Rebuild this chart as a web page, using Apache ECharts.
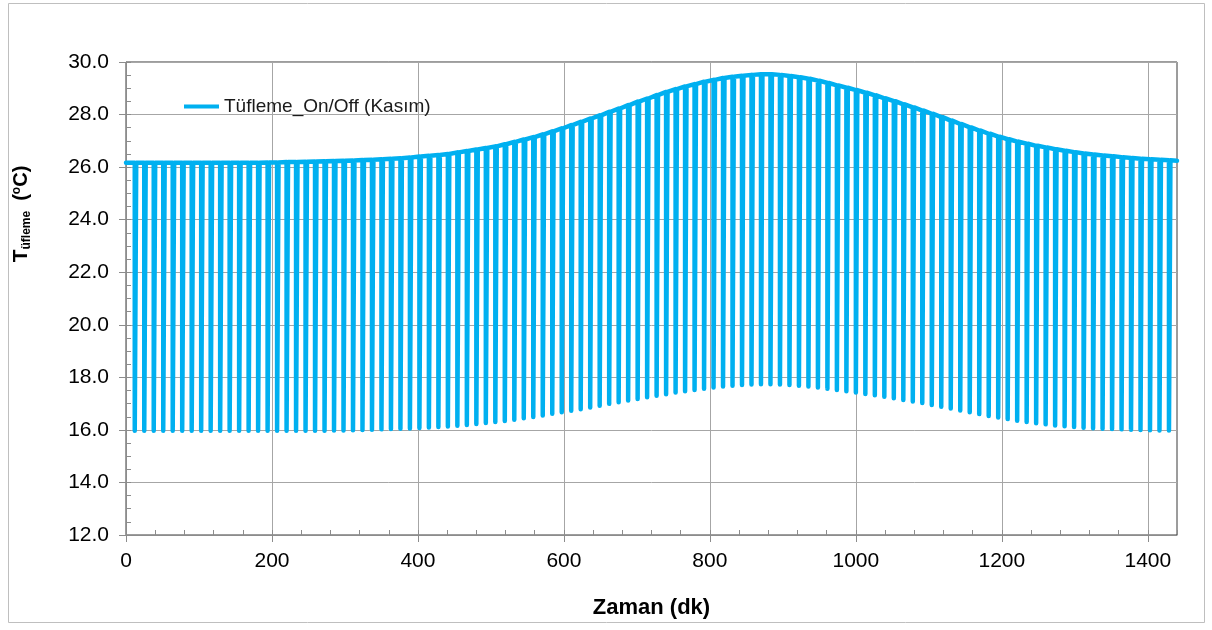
<!DOCTYPE html>
<html>
<head>
<meta charset="utf-8">
<script src="https://cdn.jsdelivr.net/npm/echarts@6.0.0/dist/echarts.min.js"></script>
<style>
html,body{margin:0;padding:0;background:#fff;}
#chart{width:1212px;height:630px;}
</style>
</head>
<body>
<div id="chart"></div>
<script>
// ---- data ----
var seriesName = 'Tüfleme_On/Off (Kasım)';
var xTicks = [0, 200, 400, 600, 800, 1000, 1200, 1400];
var yTicks = [12, 14, 16, 18, 20, 22, 24, 26, 28, 30];
var startPoint = [0, 26.17];
var endPoint = [1440, 26.24];
// times (dk) of each off-dip
var cycleTimes = [
  12,25,38,51,64,77,90,103,116,129,
  142,155,168,181,194,207,220,233,246,259,
  272,285,298,311,324,337,350,363,376,389,
  402,415,428,441,454,467,480,493,506,519,
  532,545,558,571,584,597,610,623,636,649,
  662,675,688,701,714,727,740,753,766,779,
  792,805,818,831,844,857,870,883,896,909,
  922,935,948,961,974,987,1000,1013,1026,1039,
  1052,1065,1078,1091,1104,1117,1130,1143,1156,1169,
  1182,1195,1208,1221,1234,1247,1260,1273,1286,1299,
  1312,1325,1338,1351,1364,1377,1390,1403,1416,1429
];
// upper (on) temperature at each cycle
var upperTemps = [
  26.17,26.17,26.17,26.17,26.17,26.17,26.17,26.17,26.17,26.17,
  26.17,26.17,26.17,26.17,26.18,26.18,26.19,26.19,26.20,26.21,
  26.22,26.23,26.24,26.25,26.27,26.28,26.30,26.32,26.34,26.37,
  26.40,26.43,26.46,26.50,26.56,26.61,26.67,26.73,26.79,26.87,
  26.96,27.05,27.14,27.25,27.36,27.48,27.60,27.72,27.85,27.97,
  28.10,28.23,28.36,28.49,28.61,28.74,28.86,28.97,29.07,29.16,
  29.25,29.32,29.39,29.44,29.48,29.51,29.53,29.53,29.51,29.47,
  29.42,29.36,29.29,29.20,29.11,29.02,28.93,28.83,28.73,28.62,
  28.51,28.39,28.27,28.15,28.03,27.90,27.77,27.64,27.51,27.39,
  27.27,27.16,27.06,26.97,26.89,26.81,26.75,26.68,26.62,26.57,
  26.52,26.48,26.44,26.41,26.38,26.35,26.32,26.30,26.28,26.26
];
// lower (off) temperature at each cycle
var lowerTemps = [
  15.97,15.97,15.97,15.97,15.97,15.97,15.97,15.97,15.97,15.97,
  15.97,15.97,15.97,15.97,15.97,15.97,15.97,15.97,15.97,15.97,
  15.97,15.98,15.98,15.99,16.00,16.01,16.02,16.03,16.04,16.05,
  16.07,16.09,16.11,16.13,16.16,16.19,16.22,16.26,16.30,16.34,
  16.39,16.44,16.49,16.55,16.61,16.67,16.73,16.79,16.85,16.92,
  16.99,17.05,17.12,17.18,17.24,17.30,17.36,17.42,17.47,17.52,
  17.57,17.61,17.65,17.68,17.71,17.73,17.74,17.74,17.73,17.71,
  17.68,17.65,17.61,17.57,17.52,17.47,17.42,17.37,17.32,17.26,
  17.20,17.14,17.08,17.02,16.95,16.88,16.81,16.74,16.67,16.60,
  16.53,16.47,16.41,16.35,16.30,16.25,16.21,16.17,16.14,16.11,
  16.08,16.06,16.04,16.03,16.02,16.01,16.00,15.99,15.98,15.98
];
var offDuration = 2; // dk spent at the lower value in each dip

// build the line's point table from the arrays
var lineData = [startPoint.slice()];
for (var i = 0; i < cycleTimes.length; i++) {
  var t = cycleTimes[i];
  lineData.push([t, upperTemps[i]]);
  lineData.push([t, lowerTemps[i]]);
  lineData.push([t + offDuration, lowerTemps[i]]);
  lineData.push([t + offDuration, upperTemps[i]]);
}
lineData.push(endPoint.slice());

var FONT = '"Liberation Sans", Arial, sans-serif';
var chart = echarts.init(document.getElementById('chart'), null, {renderer: 'canvas'});
var option = {
  animation: false,
  backgroundColor: '#ffffff',
  textStyle: {fontFamily: FONT},
  grid: {left: 126, right: 35, top: 62, bottom: 95, show: true, borderColor: '#3a3a3a', borderWidth: 1, backgroundColor: 'transparent'},
  legend: {
    left: 184, top: 97, padding: 0,
    icon: 'rect', itemWidth: 35, itemHeight: 4, itemGap: 4,
    textStyle: {fontFamily: FONT, fontSize: 19, color: '#1a1a1a', padding: [0,0,0,0]},
    data: [seriesName]
  },
  xAxis: [{
    type: 'value', min: 0, max: 1440, interval: 200,
    axisLine: {show: true, lineStyle: {color: '#8c8c8c', width: 1}},
    axisTick: {show: true, inside: false, length: 7, lineStyle: {color: '#8c8c8c'}, customValues: xTicks},
    axisLabel: {show: true, margin: 16, fontSize: 21, color: '#000', fontFamily: FONT, customValues: xTicks,
      formatter: function (v) { return String(v); }},
    splitLine: {show: true, lineStyle: {color: '#a6a6a6', width: 1}},
    name: 'Zaman (dk)', nameLocation: 'middle', nameGap: 62,
    nameTextStyle: {fontSize: 22, fontWeight: 'bold', color: '#000', fontFamily: FONT}
  }, {
    type: 'value', min: 0, max: 1440, interval: 40, position: 'bottom',
    axisLine: {show: false}, axisLabel: {show: false}, splitLine: {show: false},
    axisTick: {show: true, inside: true, length: 5, lineStyle: {color: '#8c8c8c'}}
  }],
  yAxis: [{
    type: 'value', min: 12, max: 30, interval: 2,
    axisLine: {show: true, lineStyle: {color: '#8c8c8c', width: 1}},
    axisTick: {show: true, inside: false, length: 7, lineStyle: {color: '#8c8c8c'}},
    axisLabel: {show: true, margin: 17, fontSize: 21, color: '#000', fontFamily: FONT,
      formatter: function (v) { return v.toFixed(1); }},
    splitLine: {show: true, lineStyle: {color: '#a6a6a6', width: 1}}
  }, {
    type: 'value', min: 12, max: 30, interval: 0.5, position: 'left',
    axisLine: {show: false}, axisLabel: {show: false}, splitLine: {show: false},
    axisTick: {show: true, inside: true, length: 5, lineStyle: {color: '#8c8c8c'}}
  }],
  graphic: [{
    type: 'rect', silent: true, z: -10,
    shape: {x: 8.5, y: 3.5, width: 1196, height: 619},
    style: {fill: 'none', stroke: '#bfbfbf', lineWidth: 1}
  }, {
    type: 'text', silent: true,
    x: 21, y: 214, rotation: Math.PI / 2,
    style: {
      text: '{t|T}{s|üfleme}{g|   }{p|(}{o|o}{p|C)}',
      align: 'center', verticalAlign: 'middle', fill: '#000',
      rich: {
        t: {fontSize: 21, fontWeight: 'bold', fontFamily: FONT, fill: '#000', lineHeight: 26, verticalAlign: 'middle'},
        s: {fontSize: 12, fontWeight: 'bold', fontFamily: FONT, fill: '#000', lineHeight: 26, verticalAlign: 'bottom', padding: [0,0,1,0]},
        g: {fontSize: 12, fontFamily: FONT, lineHeight: 26},
        p: {fontSize: 20, fontWeight: 'bold', fontFamily: FONT, fill: '#000', lineHeight: 26, verticalAlign: 'middle'},
        o: {fontSize: 12, fontWeight: 'bold', fontFamily: FONT, fill: '#000', lineHeight: 26, verticalAlign: 'top', padding: [3,0,0,0]}
      }
    }
  }],
  series: [{
    name: seriesName,
    type: 'line',
    xAxisIndex: 0, yAxisIndex: 0,
    data: lineData,
    showSymbol: false, symbol: 'none',
    clip: true,
    lineStyle: {color: '#00B0F0', width: 4.5, join: 'round', cap: 'round'},
    itemStyle: {color: '#00B0F0'}
  }]
};
chart.setOption(option);
</script>
</body>
</html>
